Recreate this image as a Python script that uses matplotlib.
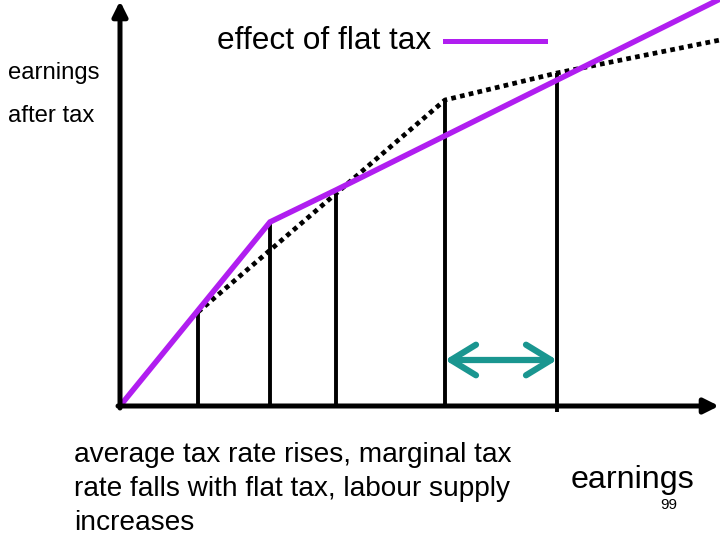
import matplotlib
matplotlib.use("Agg")
import matplotlib.pyplot as plt

plt.rcParams["font.family"] = ["Liberation Sans", "DejaVu Sans"]

# coordinates measured from the origin of the diagram (earnings, earnings after tax)
flat_x = [0, 150, 216, 600]
flat_y = [0, 184, 216, 407]
prog_x = [78, 325, 437, 600]
prog_y = [94, 306, 333, 366]
bar_x = [78, 150, 216, 325, 437]
bar_top = [94, 184, 216, 306, 333]
bar_bottom = [0, 0, 0, 0, -6]
gap_from, gap_to, gap_y = 325, 437, 46

PURPLE = "#b01ef0"
TEAL = "#1a9690"

fig = plt.figure(figsize=(7.2, 5.4), dpi=100)
ax = fig.add_axes([0, 0, 1, 1])
ax.set_xlim(-120, 600)
ax.set_ylim(-134, 406)
ax.axis("off")

# axes with arrow heads
ax.annotate("", xy=(0, 405), xytext=(0, -2),
            arrowprops=dict(arrowstyle="-|>", color="black", lw=3.6, mutation_scale=22, shrinkA=0, shrinkB=0))
ax.annotate("", xy=(599, 0), xytext=(-2, 0),
            arrowprops=dict(arrowstyle="-|>", color="black", lw=3.6, mutation_scale=22, shrinkA=0, shrinkB=0))

for x, top, bot in zip(bar_x, bar_top, bar_bottom):
    ax.plot([x, x], [bot, top], color="black", lw=2.8, solid_capstyle="butt")

ax.plot(prog_x, prog_y, color="black", lw=3.4, linestyle=(0, (1, 0.9)), dash_capstyle="butt")
ax.plot(flat_x, flat_y, color=PURPLE, lw=4.0, solid_joinstyle="miter", clip_on=True)

ax.annotate("", xy=(gap_to, gap_y), xytext=(gap_from, gap_y),
            arrowprops=dict(arrowstyle="<->,head_length=0.9,head_width=0.55", color=TEAL, lw=4.5,
                            capstyle="round", joinstyle="round", mutation_scale=20,
                            shrinkA=0, shrinkB=0))

# legend-like label
ax.text(97, 365, "effect of flat tax", fontsize=22.8, ha="left", va="center")
ax.plot([325, 425], [365, 365], color=PURPLE, lw=3.6)

ax.text(-112, 333, "earnings", fontsize=17.2, ha="left", va="center")
ax.text(-112, 290, "after tax", fontsize=17.2, ha="left", va="center")

ax.text(-46, -36, "average tax rate rises, marginal tax\nrate falls with flat tax, labour supply\nincreases",
        fontsize=20.2, ha="left", va="top", linespacing=1.39)
ax.text(451, -74, "earnings", fontsize=23.2, ha="left", va="center")
ax.text(549, -99, "99", fontsize=11, ha="center", va="center")

fig.savefig("out.png", dpi=100)
